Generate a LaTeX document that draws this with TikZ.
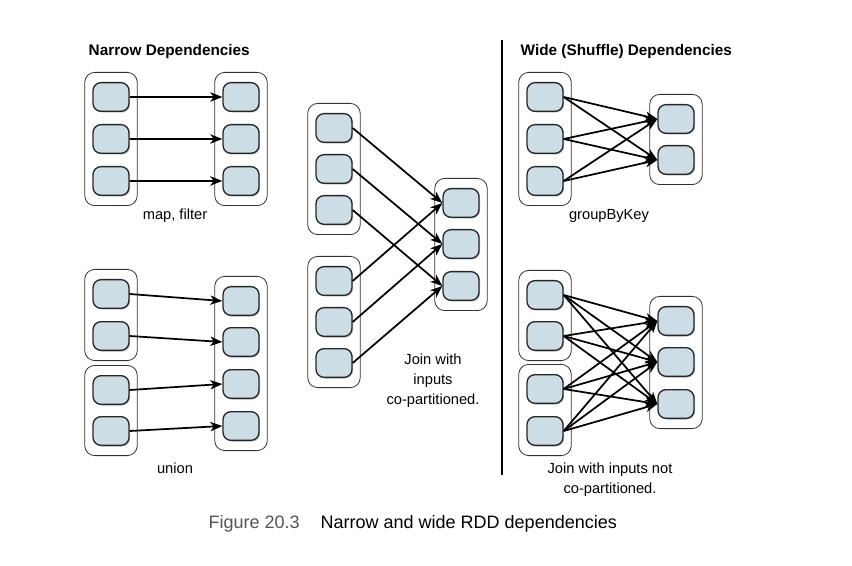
\documentclass[tikz,border=0pt]{standalone}
\usepackage{fontspec}
\setmainfont{Liberation Sans}
\usetikzlibrary{arrows.meta,shadows,fit}
\definecolor{partblue}{HTML}{CCDDE6}
\definecolor{captiongray}{HTML}{555555}
\begin{document}
\begin{tikzpicture}
[x=0.75pt,y=-0.75pt,
part/.style={draw=black!85,line width=1pt,fill=partblue,rounded corners=6pt,
  minimum width=27pt,minimum height=21.5pt,inner sep=0pt,
  drop shadow={shadow xshift=0.9pt,shadow yshift=-0.9pt,opacity=0.45}},
rdd/.style={draw=black!80,line width=0.6pt,rounded corners=7.5pt,inner xsep=5.7pt,inner ysep=7.2pt},
dep/.style={-{Stealth[length=9pt,width=7pt,inset=2.5pt]},line width=1.3pt},
label/.style={font=\fontsize{11}{15}\selectfont,align=center},
heading/.style={font=\fontsize{11.5}{14}\selectfont\bfseries,anchor=west}]
\useasboundingbox (0,0) rectangle (852,566);

% narrow: map, filter
\node[heading] (narrowtitle) at (84,52) {Narrow Dependencies};
\node[part] (ma1) at (111,97) {};
\node[part] (ma2) at (111,139) {};
\node[part] (ma3) at (111,181) {};
\node[part] (mb1) at (241,97) {};
\node[part] (mb2) at (241,139) {};
\node[part] (mb3) at (241,181) {};
\node[rdd,fit=(ma1)(ma3)] (mapin) {};
\node[rdd,fit=(mb1)(mb3)] (mapout) {};
\draw[dep] (ma1) -- (mb1);
\draw[dep] (ma2) -- (mb2);
\draw[dep] (ma3) -- (mb3);
\node[label] (maplabel) at (175,216) {map, filter};

% narrow: union
\node[part] (ua1) at (111,294) {};
\node[part] (ua2) at (111,336) {};
\node[part] (ua3) at (111,390) {};
\node[part] (ua4) at (111,431) {};
\node[part] (ub1) at (241,301) {};
\node[part] (ub2) at (241,342) {};
\node[part] (ub3) at (241,384) {};
\node[part] (ub4) at (241,426) {};
\node[rdd,fit=(ua1)(ua2)] (unionina) {};
\node[rdd,fit=(ua3)(ua4)] (unioninb) {};
\node[rdd,fit=(ub1)(ub4)] (unionout) {};
\draw[dep] (ua1.east) -- (ub1.west);
\draw[dep] (ua2.east) -- (ub2.west);
\draw[dep] (ua3.east) -- (ub3.west);
\draw[dep] (ua4.east) -- (ub4.west);
\node[label] (unionlabel) at (175,468) {union};

% narrow: join with co-partitioned inputs
\node[part] (ja1) at (334,128) {};
\node[part] (ja2) at (334,169) {};
\node[part] (ja3) at (334,210) {};
\node[part] (jb1) at (334,281) {};
\node[part] (jb2) at (334,322) {};
\node[part] (jb3) at (334,363) {};
\node[part] (jc1) at (461,203) {};
\node[part] (jc2) at (461,244) {};
\node[part] (jc3) at (461,286) {};
\node[rdd,fit=(ja1)(ja3)] (joinina) {};
\node[rdd,fit=(jb1)(jb3)] (joininb) {};
\node[rdd,fit=(jc1)(jc3)] (joinout) {};
\draw[dep] (ja1.east) -- (jc1.west);
\draw[dep] (ja2.east) -- (jc2.west);
\draw[dep] (ja3.east) -- (jc3.west);
\draw[dep] (jb1.east) -- (jc1.west);
\draw[dep] (jb2.east) -- (jc2.west);
\draw[dep] (jb3.east) -- (jc3.west);
\node[label] (joinlabel) at (433,381) {Join with\\inputs\\co-partitioned.};

% divider
\coordinate (divtop) at (502,40);
\coordinate (divbottom) at (502,475);
\draw[line width=1.6pt] (divtop) -- (divbottom);

% wide: groupByKey
\node[heading] (widetitle) at (516,52) {Wide (Shuffle) Dependencies};
\node[part] (ga1) at (545,97) {};
\node[part] (ga2) at (545,139) {};
\node[part] (ga3) at (545,181) {};
\node[part] (gb1) at (676,119) {};
\node[part] (gb2) at (676,160) {};
\node[rdd,fit=(ga1)(ga3)] (groupin) {};
\node[rdd,fit=(gb1)(gb2)] (groupout) {};
\draw[dep] (ga1.east) -- (gb1.west);
\draw[dep] (ga1.east) -- (gb2.west);
\draw[dep] (ga2.east) -- (gb1.west);
\draw[dep] (ga2.east) -- (gb2.west);
\draw[dep] (ga3.east) -- (gb1.west);
\draw[dep] (ga3.east) -- (gb2.west);
\node[label] (grouplabel) at (609,216) {groupByKey};

% wide: join with inputs not co-partitioned
\node[part] (wa1) at (545,295) {};
\node[part] (wa2) at (545,336) {};
\node[part] (wa3) at (545,389) {};
\node[part] (wa4) at (545,431) {};
\node[part] (wb1) at (676,321) {};
\node[part] (wb2) at (676,362) {};
\node[part] (wb3) at (676,404) {};
\node[rdd,fit=(wa1)(wa2)] (wideina) {};
\node[rdd,fit=(wa3)(wa4)] (wideinb) {};
\node[rdd,fit=(wb1)(wb3)] (wideout) {};
\draw[dep] (wa1.east) -- (wb1.west);
\draw[dep] (wa1.east) -- (wb2.west);
\draw[dep] (wa1.east) -- (wb3.west);
\draw[dep] (wa2.east) -- (wb1.west);
\draw[dep] (wa2.east) -- (wb2.west);
\draw[dep] (wa2.east) -- (wb3.west);
\draw[dep] (wa3.east) -- (wb1.west);
\draw[dep] (wa3.east) -- (wb2.west);
\draw[dep] (wa3.east) -- (wb3.west);
\draw[dep] (wa4.east) -- (wb1.west);
\draw[dep] (wa4.east) -- (wb2.west);
\draw[dep] (wa4.east) -- (wb3.west);
\node[label] (widelabel) at (610,480) {Join with inputs not\\co-partitioned.};

% caption
\node[anchor=west,font=\fontsize{13.5}{16}\selectfont,text=captiongray] (fignum) at (204,524) {Figure 20.3};
\node[anchor=west,font=\fontsize{13.5}{16}\selectfont] (figtext) at (316,524) {Narrow and wide RDD dependencies};
\end{tikzpicture}
\end{document}
